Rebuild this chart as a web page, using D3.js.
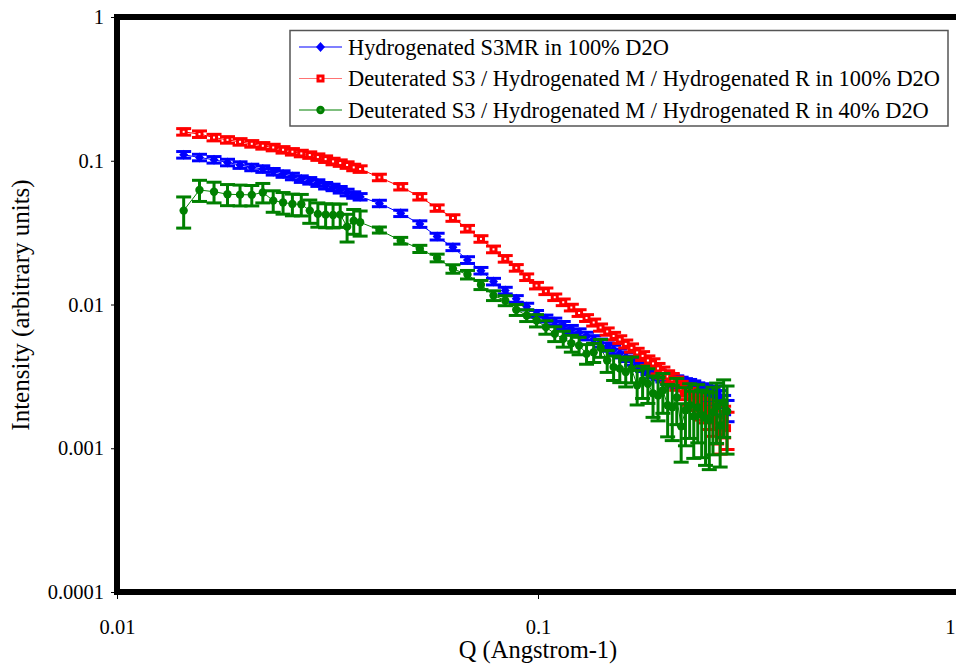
<!DOCTYPE html>
<html>
<head>
<meta charset="utf-8">
<script src="https://cdn.jsdelivr.net/npm/d3@7"></script>
<style>
  html, body { margin: 0; padding: 0; background: #fff; }
  svg { display: block; }
  text { font-family: "Liberation Serif", "Times New Roman", serif; fill: #000; }
</style>
</head>
<body>
<svg id="chart" width="956" height="666"></svg>
<script>
// Scattering vector Q (1/Angstrom): low-Q set then mid/high-Q set
const qValues = [
  0.0144, 0.0157, 0.0170, 0.0183, 0.0196, 0.0209, 0.0222, 0.0235, 0.0248, 0.0261,
  0.0274, 0.0287, 0.0300, 0.0313, 0.0326, 0.0339, 0.0352, 0.0365, 0.0378,
  0.0420, 0.0472, 0.0524, 0.0576, 0.0628, 0.0680, 0.0732, 0.0784, 0.0836, 0.0888,
  0.0940, 0.0992, 0.1044, 0.1096, 0.1148, 0.1200, 0.1252, 0.1304, 0.1356, 0.1408,
  0.1460, 0.1512, 0.1564, 0.1616, 0.1668, 0.1720, 0.1772, 0.1824, 0.1876, 0.1928,
  0.1980, 0.2032, 0.2084, 0.2136, 0.2188, 0.2240, 0.2292, 0.2344, 0.2396, 0.2448,
  0.2500, 0.2552, 0.2604, 0.2656, 0.2708, 0.2760, 0.2812
];

// Hydrogenated S3MR in 100% D2O
const blueI = [
  0.1101, 0.1054, 0.1016, 0.0973, 0.0934, 0.0899, 0.0876, 0.0839, 0.0809, 0.0778,
  0.0746, 0.0726, 0.0700, 0.0671, 0.0653, 0.0629, 0.0602, 0.0578, 0.0562,
  0.0505, 0.0431, 0.0363, 0.0297, 0.0250, 0.0204, 0.0172, 0.01444, 0.01251, 0.01095,
  0.00969, 0.00862, 0.00800, 0.00762, 0.00721, 0.00676, 0.00639, 0.00604, 0.00571, 0.00540,
  0.00507, 0.00487, 0.00457, 0.00432, 0.00408, 0.00386, 0.00371, 0.00354, 0.00337, 0.00326,
  0.00316, 0.00306, 0.00297, 0.00292, 0.00285, 0.00278, 0.00274, 0.00267, 0.00257, 0.00253,
  0.00245, 0.00237, 0.00230, 0.00241, 0.00222, 0.00202, 0.00184
];
const blueErr = [
  0.0058, 0.0055, 0.0053, 0.0051, 0.0049, 0.0047, 0.0046, 0.0044, 0.0042, 0.0041,
  0.0039, 0.0038, 0.0037, 0.0035, 0.0034, 0.0033, 0.0032, 0.0030, 0.0029,
  0.0026, 0.0022, 0.0019, 0.0016, 0.0013, 0.0011, 0.00090, 0.00076, 0.00066, 0.00058,
  0.00051, 0.00046, 0.00044, 0.00042, 0.00041, 0.00039, 0.00038, 0.00037, 0.00036, 0.00035,
  0.00034, 0.00033, 0.00032, 0.00031, 0.00030, 0.00029, 0.00029, 0.00028, 0.00028, 0.00027,
  0.00027, 0.00027, 0.00027, 0.00027, 0.00027, 0.00027, 0.00027, 0.00027, 0.00028, 0.00028,
  0.00028, 0.00029, 0.00029, 0.00030, 0.00030, 0.00031, 0.00031
];

// Deuterated S3 / Hydrogenated M / Hydrogenated R in 100% D2O
const redI = [
  0.1590, 0.1532, 0.1451, 0.1398, 0.1354, 0.1312, 0.1271, 0.1237, 0.1192, 0.1155,
  0.1124, 0.1096, 0.1061, 0.1027, 0.0989, 0.0964, 0.0934, 0.0899, 0.0876,
  0.0766, 0.0660, 0.0562, 0.0469, 0.0400, 0.0337, 0.0286, 0.0242, 0.0208, 0.0180,
  0.0155, 0.01354, 0.01237, 0.01124, 0.01037, 0.00953, 0.00873, 0.00806, 0.00750, 0.00692,
  0.00649, 0.00604, 0.00571, 0.00532, 0.00499, 0.00464, 0.00439, 0.00408, 0.00389, 0.00359,
  0.00337, 0.00316, 0.00301, 0.00283, 0.00261, 0.00249, 0.00230, 0.00215, 0.00202, 0.00190,
  0.00184, 0.00170, 0.00157, 0.00144, 0.00129, 0.00157, 0.00138
];
const redErr = [
  0.0083, 0.0080, 0.0076, 0.0073, 0.0071, 0.0069, 0.0067, 0.0065, 0.0062, 0.0060,
  0.0059, 0.0057, 0.0055, 0.0054, 0.0052, 0.0050, 0.0049, 0.0047, 0.0046,
  0.0040, 0.0034, 0.0029, 0.0024, 0.0021, 0.0018, 0.0015, 0.0013, 0.0011, 0.00095,
  0.00082, 0.00071, 0.00065, 0.00059, 0.00055, 0.00051, 0.00047, 0.00044, 0.00042, 0.00040,
  0.00038, 0.00036, 0.00035, 0.00034, 0.00033, 0.00032, 0.00031, 0.00031, 0.00030, 0.00030,
  0.00030, 0.00030, 0.00030, 0.00030, 0.00031, 0.00031, 0.00031, 0.00032, 0.00032, 0.00033,
  0.00034, 0.00035, 0.00036, 0.00037, 0.00038, 0.00039, 0.00040
];

// Deuterated S3 / Hydrogenated M / Hydrogenated R in 40% D2O
const greenI = [
  0.0450, 0.0626, 0.0609, 0.0585, 0.0581, 0.0579, 0.0602, 0.0528, 0.0513, 0.0500,
  0.0498, 0.0450, 0.0427, 0.0422, 0.0420, 0.0422, 0.0348, 0.0383, 0.0373,
  0.0330, 0.0278, 0.0244, 0.0211, 0.0177, 0.01615, 0.0137, 0.01155, 0.01066, 0.00919,
  0.00839, 0.00774, 0.00696, 0.00626, 0.00578, 0.00538, 0.00519, 0.00455, 0.00466, 0.00500,
  0.00408, 0.00367, 0.00358, 0.00339, 0.00358, 0.00274, 0.00297, 0.00281, 0.00241, 0.00233,
  0.00253, 0.00199, 0.00193, 0.00226, 0.00142, 0.00184, 0.00199, 0.00167, 0.00193, 0.00170,
  0.00162, 0.00157, 0.00178, 0.00196, 0.00144, 0.00209, 0.00181
];
const greenErr = [
  0.0110, 0.0105, 0.0100, 0.0098, 0.0096, 0.0094, 0.0093, 0.0090, 0.0088, 0.0086,
  0.0085, 0.0083, 0.0082, 0.0080, 0.0079, 0.0078, 0.0076, 0.0075, 0.0074,
  0.0016, 0.0015, 0.0014, 0.0013, 0.0012, 0.0011, 0.0010, 0.0009, 0.00085, 0.00080,
  0.00078, 0.00076, 0.00075, 0.00074, 0.00073, 0.00072, 0.00072, 0.00071, 0.00071, 0.00071,
  0.00071, 0.00071, 0.00072, 0.00072, 0.00073, 0.00074, 0.00075, 0.00076, 0.00077, 0.00078,
  0.00078, 0.00079, 0.00080, 0.00080, 0.00062, 0.00080, 0.00082, 0.00082, 0.00084, 0.00084,
  0.00086, 0.00086, 0.00088, 0.00088, 0.00070, 0.00090, 0.00090
];

const seriesNames = [
  "Hydrogenated S3MR in 100% D2O",
  "Deuterated S3 / Hydrogenated M / Hydrogenated R in 100% D2O",
  "Deuterated S3 / Hydrogenated M / Hydrogenated R in 40% D2O"
];
const seriesColors = ["#0000FF", "#FF0000", "#008000"];
const seriesMarkers = ["diamond", "square", "circle"];

const xTickValues = [0.01, 0.1, 1];
const xTickLabels = ["0.01", "0.1", "1"];
const yTickValues = [0.0001, 0.001, 0.01, 0.1, 1];
const yTickLabels = ["0.0001", "0.001", "0.01", "0.1", "1"];

const xTitle = "Q (Angstrom-1)";
const yTitle = "Intensity (arbitrary units)";

// ---------------------------------------------------------------
const svg = d3.select("#chart");
const W = 956;
const plot = { left: 117, top: 17, right: 959, bottom: 592 };

const x = d3.scaleLog().domain([0.01, 1]).range([plot.left, plot.right]);
const y = d3.scaleLog().domain([0.0001, 1]).range([plot.bottom, plot.top]);

const series = [
  { name: seriesNames[0], color: seriesColors[0], marker: seriesMarkers[0], vals: blueI, errs: blueErr },
  { name: seriesNames[1], color: seriesColors[1], marker: seriesMarkers[1], vals: redI, errs: redErr },
  { name: seriesNames[2], color: seriesColors[2], marker: seriesMarkers[2], vals: greenI, errs: greenErr }
].map(s => ({ ...s, points: qValues.map((q, i) => ({ q, v: s.vals[i], e: s.errs[i] })) }));

// Axes (ticks and labels only; the frame is drawn separately)
const yAxis = d3.axisLeft(y)
  .tickValues(yTickValues)
  .tickFormat((d, i) => yTickLabels[i])
  .tickSizeInner(6).tickSizeOuter(0).tickPadding(7);
const gy = svg.append("g").attr("transform", `translate(${plot.left},0)`).call(yAxis);
gy.select(".domain").remove();
gy.selectAll("text").attr("font-size", 20.5).style("font-family", '"Liberation Serif", serif');

const xAxis = d3.axisBottom(x)
  .tickValues(xTickValues)
  .tickFormat((d, i) => xTickLabels[i])
  .tickSizeInner(7).tickSizeOuter(0).tickPadding(20);
const gx = svg.append("g").attr("transform", `translate(0,${plot.bottom})`).call(xAxis);
gx.select(".domain").remove();
gx.selectAll("text").attr("font-size", 20.5).style("font-family", '"Liberation Serif", serif');
// keep the label of the last decade inside the page edge
gx.selectAll(".tick").filter(d => x(d) > W - 6).select("text")
  .attr("text-anchor", "end").attr("x", W - 1 - x(1));

// Clip marks to the plot region
svg.append("clipPath").attr("id", "plotClip")
  .append("rect").attr("x", plot.left).attr("y", plot.top)
  .attr("width", plot.right - plot.left).attr("height", plot.bottom - plot.top);

const marks = svg.append("g").attr("clip-path", "url(#plotClip)");

function drawMarker(g, type, color, cx, cy, legend) {
  if (type === "diamond") {
    g.append("path")
      .attr("d", `M${cx},${cy - 5}L${cx + 4.5},${cy}L${cx},${cy + 5}L${cx - 4.5},${cy}Z`)
      .attr("fill", color);
  } else if (type === "square") {
    g.append("rect").attr("x", cx - 4).attr("y", cy - 4)
      .attr("width", 8).attr("height", 8).attr("fill", color);
    g.append("rect").attr("x", cx - 1).attr("y", cy - 1)
      .attr("width", 2).attr("height", 2).attr("fill", "#fff");
  } else {
    g.append("circle").attr("cx", cx).attr("cy", cy).attr("r", 4.2).attr("fill", color);
    if (legend) g.append("circle").attr("cx", cx).attr("cy", cy).attr("r", 1.2).attr("fill", "#3a9a3a");
  }
}

const line = d3.line().x(d => x(d.q)).y(d => y(d.v));
const capHalf = 7.5;

series.forEach(s => {
  const g = marks.append("g");
  // connecting line
  g.append("path").datum(s.points)
    .attr("d", line).attr("fill", "none")
    .attr("stroke", s.color).attr("stroke-width", 1);
  // error bars
  const eb = g.append("g").attr("stroke", s.color).attr("stroke-width", 3).attr("fill", "none");
  s.points.forEach(p => {
    const px = x(p.q);
    const yHi = y(p.v + p.e);
    const yLo = y(Math.max(p.v - p.e, 1e-6));
    eb.append("line").attr("x1", px).attr("x2", px).attr("y1", yHi).attr("y2", yLo);
    eb.append("line").attr("x1", px - capHalf).attr("x2", px + capHalf).attr("y1", yHi).attr("y2", yHi);
    eb.append("line").attr("x1", px - capHalf).attr("x2", px + capHalf).attr("y1", yLo).attr("y2", yLo);
  });
  // markers
  const mg = g.append("g");
  s.points.forEach(p => drawMarker(mg, s.marker, s.color, x(p.q), y(p.v), false));
});

// Plot frame
svg.append("rect")
  .attr("x", plot.left).attr("y", plot.top)
  .attr("width", plot.right - plot.left).attr("height", plot.bottom - plot.top)
  .attr("fill", "none").attr("stroke", "#000").attr("stroke-width", 6);

// Legend
const lg = svg.append("g");
lg.append("rect").attr("x", 290).attr("y", 30.5).attr("width", 658).attr("height", 95.5)
  .attr("fill", "#fff").attr("stroke", "#555").attr("stroke-width", 1.5);
const rowY = [47, 78.5, 110];
series.forEach((s, i) => {
  const yy = rowY[i];
  lg.append("line").attr("x1", 299).attr("x2", 342).attr("y1", yy).attr("y2", yy)
    .attr("stroke", s.color).attr("stroke-width", 1.2)
    .attr("stroke-opacity", s.marker === "square" ? 0.55 : 1);
  drawMarker(lg, s.marker, s.color, 320.5, yy, true);
  lg.append("text").attr("x", 348).attr("y", yy + 7.5)
    .attr("font-size", 22.4).text(s.name);
});

// Axis titles
svg.append("text")
  .attr("x", 538).attr("y", 658)
  .attr("text-anchor", "middle").attr("font-size", 24.5)
  .text(xTitle);
svg.append("text")
  .attr("transform", "translate(29,305) rotate(-90)")
  .attr("text-anchor", "middle").attr("font-size", 25)
  .text(yTitle);
</script>
</body>
</html>
